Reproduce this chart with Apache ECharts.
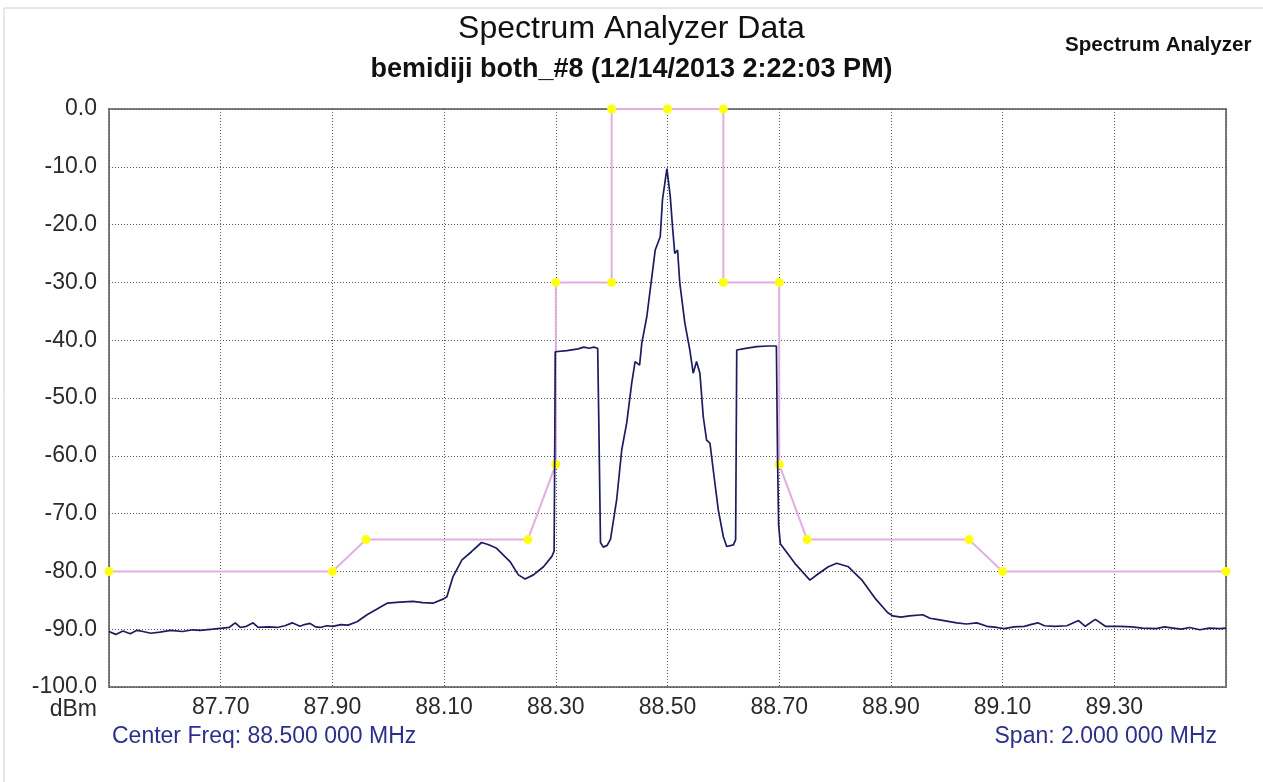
<!DOCTYPE html>
<html>
<head>
<meta charset="utf-8">
<script src="https://cdn.jsdelivr.net/npm/echarts@6/dist/echarts.min.js"></script>
<style>html,body{margin:0;padding:0;background:#fff;}#c{width:1263px;height:782px;}</style>
</head>
<body>
<div id="c"></div>
<script>
// Spectrum trace (MHz, dBm)
const traceFreq = [87.500,87.512,87.525,87.538,87.550,87.561,87.575,87.591,87.610,87.632,87.650,87.663,87.686,87.704,87.715,87.726,87.735,87.746,87.758,87.767,87.785,87.801,87.815,87.828,87.842,87.850,87.860,87.870,87.878,87.890,87.901,87.915,87.928,87.944,87.962,87.980,87.998,88.021,88.044,88.062,88.080,88.098,88.105,88.116,88.132,88.149,88.167,88.180,88.194,88.218,88.233,88.245,88.260,88.278,88.293,88.297,88.298,88.299,88.320,88.340,88.350,88.360,88.368,88.375,88.377,88.380,88.385,88.392,88.398,88.409,88.418,88.427,88.436,88.442,88.450,88.454,88.463,88.472,88.478,88.487,88.491,88.496,88.499,88.505,88.509,88.513,88.518,88.522,88.531,88.540,88.546,88.552,88.558,88.564,88.570,88.576,88.582,88.591,88.600,88.606,88.618,88.622,88.624,88.640,88.660,88.680,88.695,88.697,88.699,88.702,88.728,88.755,88.770,88.788,88.803,88.824,88.849,88.873,88.894,88.903,88.918,88.933,88.957,88.970,88.982,89.000,89.018,89.035,89.054,89.072,89.090,89.103,89.120,89.139,89.150,89.163,89.175,89.193,89.215,89.236,89.248,89.266,89.284,89.310,89.332,89.350,89.375,89.390,89.405,89.420,89.435,89.453,89.470,89.489,89.500];
const traceLevel = [-90.4,-90.9,-90.3,-90.8,-90.2,-90.4,-90.7,-90.5,-90.2,-90.4,-90.1,-90.2,-90.0,-89.8,-89.7,-88.9,-89.7,-89.5,-88.9,-89.7,-89.6,-89.7,-89.4,-88.9,-89.5,-89.2,-89.0,-89.6,-89.7,-89.4,-89.5,-89.2,-89.3,-88.7,-87.5,-86.5,-85.5,-85.3,-85.2,-85.4,-85.5,-84.8,-84.4,-80.9,-78.0,-76.6,-75.0,-75.4,-76.0,-78.3,-80.6,-81.3,-80.6,-79.2,-77.4,-76.5,-61.0,-42.0,-41.8,-41.5,-41.2,-41.4,-41.2,-41.4,-54.0,-75.0,-75.8,-75.5,-74.4,-67.6,-59.0,-54.3,-47.4,-43.7,-44.3,-40.5,-35.9,-29.0,-24.4,-22.1,-15.7,-12.3,-10.3,-15.2,-20.4,-25.0,-24.4,-30.1,-37.0,-41.7,-45.7,-43.7,-45.7,-53.2,-57.3,-57.8,-62.5,-69.4,-74.0,-75.7,-75.4,-74.5,-41.7,-41.4,-41.1,-41.0,-41.0,-60.0,-72.0,-75.2,-78.6,-81.5,-80.4,-79.2,-78.6,-79.2,-81.6,-84.8,-87.1,-87.7,-87.9,-87.7,-87.5,-88.1,-88.3,-88.6,-88.9,-89.1,-88.9,-89.5,-89.7,-89.9,-89.6,-89.5,-89.2,-88.9,-89.4,-89.5,-89.4,-88.5,-89.5,-88.3,-89.5,-89.5,-89.6,-89.8,-89.9,-89.6,-89.8,-90.0,-89.7,-90.1,-89.8,-89.9,-89.8];

// Limit mask
const maskFreq  = [87.5, 87.9, 87.96, 88.25, 88.3, 88.3, 88.4, 88.4, 88.5, 88.6, 88.6, 88.7, 88.7, 88.75, 89.04, 89.1, 89.5];
const maskLevel = [-80, -80, -74.5, -74.5, -61.5, -30, -30, 0, 0, 0, -30, -30, -61.5, -74.5, -74.5, -80, -80];

// Texts
const chartTitle = 'Spectrum Analyzer Data';
const chartSubtitle = 'bemidiji both_#8 (12/14/2013 2:22:03 PM)';
const cornerLabel = 'Spectrum Analyzer';
const centerFreqLabel = 'Center Freq: 88.500 000 MHz';
const spanLabel = 'Span: 2.000 000 MHz';
const yUnit = 'dBm';

const tracePts = traceFreq.map((f, i) => [f, traceLevel[i]]);
const maskPts = maskFreq.map((f, i) => [f, maskLevel[i]]);

const chart = echarts.init(document.getElementById('c'));
const FONT = '"Liberation Sans", Arial, sans-serif';
chart.setOption({
  animation: false,
  backgroundColor: '#fff',
  graphic: [{
    type: 'rect', silent: true, z: -10,
    shape: {x: 4, y: 8, width: 1400, height: 900},
    style: {fill: 'none', stroke: '#d0d0d0', lineWidth: 1}
  }],
  title: [
    {text: chartTitle, left: 'center', top: 13, padding: 0,
     textStyle: {fontFamily: FONT, fontSize: 32, fontWeight: 'normal', color: '#111'}},
    {text: chartSubtitle, left: 'center', top: 56, padding: 0,
     textStyle: {fontFamily: FONT, fontSize: 27, fontWeight: 'bold', color: '#111'}},
    {text: cornerLabel, left: 1065, top: 35, padding: 0,
     textStyle: {fontFamily: FONT, fontSize: 20.6, fontWeight: 'bold', color: '#111'}},
    {text: centerFreqLabel, left: 112, top: 725, padding: 0,
     textStyle: {fontFamily: FONT, fontSize: 23, fontWeight: 'normal', color: '#2e2e8c'}},
    {text: spanLabel, right: 46, top: 725, padding: 0,
     textStyle: {fontFamily: FONT, fontSize: 23, fontWeight: 'normal', color: '#2e2e8c'}}
  ],
  grid: {left: 109, right: 37, top: 109, bottom: 95, show: true,
         borderColor: '#7d7d7d', borderWidth: 2, backgroundColor: '#fff'},
  xAxis: {
    type: 'value', min: 87.5, max: 89.5, interval: 0.2,
    axisLine: {show: false}, axisTick: {show: false},
    axisLabel: {showMinLabel: false, showMaxLabel: false, margin: 9,
      fontFamily: FONT, fontSize: 23, color: '#2a2a2a',
      formatter: v => (Math.abs(v - 87.5) < 1e-6 || Math.abs(v - 89.5) < 1e-6) ? '' : v.toFixed(2)},
    splitLine: {show: true, lineStyle: {color: '#555', width: 1, type: [1, 2]}}
  },
  yAxis: {
    type: 'value', min: -100, max: 0, interval: 10,
    name: yUnit, nameLocation: 'start', nameGap: 22,
    nameTextStyle: {fontFamily: FONT, fontSize: 23, color: '#2a2a2a', align: 'right', verticalAlign: 'middle', padding: [0, 12, 0, 0]},
    axisLine: {show: false}, axisTick: {show: false},
    axisLabel: {margin: 12, fontFamily: FONT, fontSize: 23, color: '#2a2a2a',
      formatter: v => v.toFixed(1)},
    splitLine: {show: true, lineStyle: {color: '#555', width: 1, type: [1, 2]}}
  },
  series: [
    {type: 'line', data: maskPts, z: 2, clip: false,
     symbol: 'circle', symbolSize: 9,
     itemStyle: {color: '#ffff10', borderWidth: 0},
     lineStyle: {color: '#e2aee2', width: 2}},
    {type: 'line', data: tracePts, z: 3, symbol: 'none',
     lineStyle: {color: '#1c1c60', width: 1.7}}
  ]
});
</script>
</body>
</html>
